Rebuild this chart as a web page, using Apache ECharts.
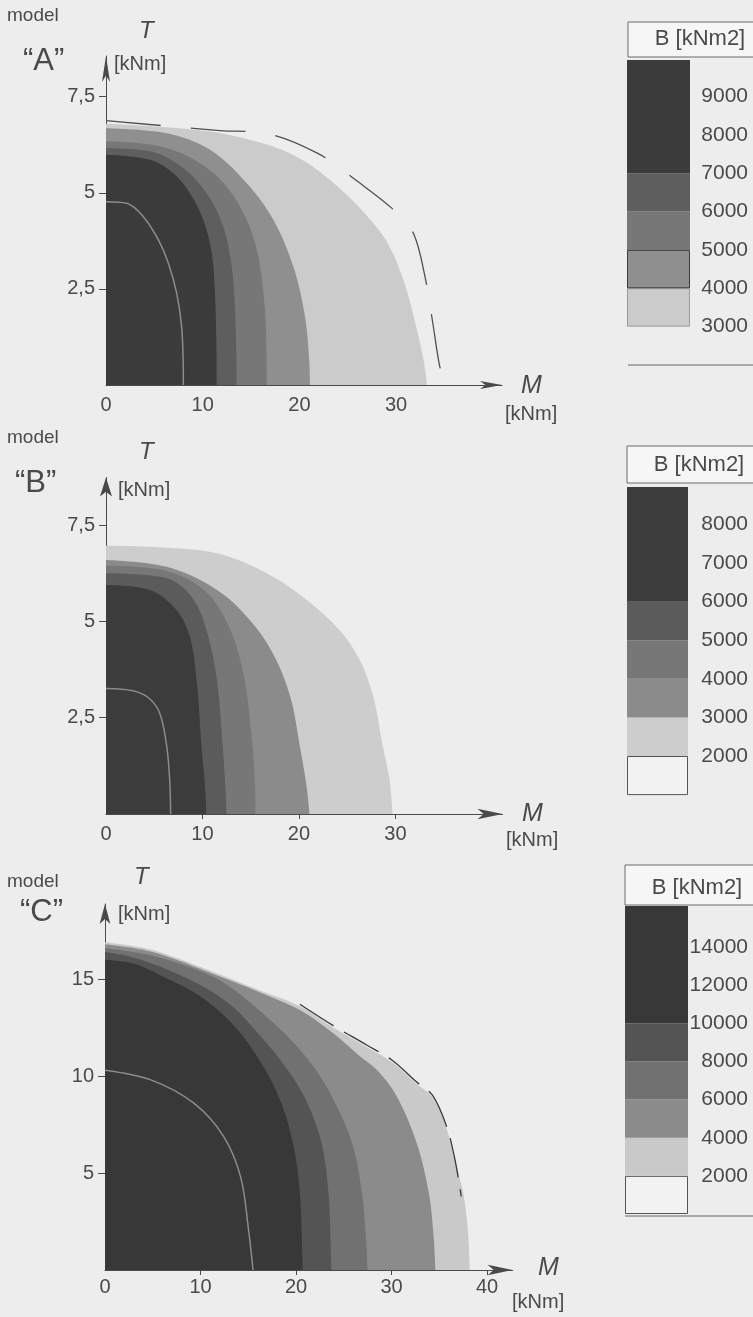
<!DOCTYPE html>
<html><head><meta charset="utf-8">
<script src="https://cdn.jsdelivr.net/npm/echarts@6/dist/echarts.min.js"></script>
<style>html,body{margin:0;padding:0;background:#ededed}#c{width:753px;height:1317px}</style>
</head><body><div id="c"></div>
<script>
// ---------- Panel A (model "A"): band outer boundaries [M, T] ----------
const A_band_3000 = [[0,6.8],[10,6.62],[16,6.3],[20,5.9],[23.5,5.26],[27,4.4],[29.1,3.7],[30.8,2.7],[31.9,1.7],[32.8,0.7],[33.2,0]];
const A_band_4000 = [[0,6.68],[6.27,6.55],[10.75,6.12],[14.55,5.25],[17.3,4.3],[19.37,3.08],[20.58,1.78],[21.0,0.7],[21.1,0]];
const A_band_5000 = [[0,6.34],[5.58,6.21],[9.72,5.77],[12.48,5.16],[14.55,4.3],[15.75,3.34],[16.44,1.95],[16.6,0.7],[16.62,0]];
const A_band_6000 = [[0,6.16],[4.55,6.08],[8.0,5.64],[10.41,4.99],[12.13,4.12],[13.0,3.08],[13.34,1.95],[13.48,0.7],[13.5,0]];
const A_band_7000 = [[0,5.99],[4.55,5.86],[6.96,5.51],[8.69,4.99],[10.06,4.3],[10.93,3.43],[11.27,2.39],[11.43,0.8],[11.45,0]];
const A_contour_inner = [[0,4.77],[2.14,4.73],[3.86,4.38],[5.41,3.78],[6.45,3.17],[7.31,2.39],[7.82,1.52],[7.98,0.6],[8.0,0]];
const A_limit = [[0,6.88],[11.8,6.62],[16.2,6.56],[21.8,6.04],[26,5.3],[30,4.5],[31.8,3.94],[33,2.8],[33.8,1.6],[34.5,0.5],[35.1,0]];

// ---------- Panel B ----------
const B_band_2000 = [[0,6.97],[4.56,6.94],[11.5,6.77],[16.65,6.25],[20.8,5.56],[24.2,4.78],[26.3,4.0],[27.7,3.05],[28.7,1.75],[29.4,0.88],[29.7,0]];
const B_band_3000 = [[0,6.6],[6.3,6.42],[11.5,5.82],[14.9,5.04],[17.3,4.17],[19.1,3.05],[20.1,1.75],[20.8,0.7],[21.1,0]];
const B_band_4000 = [[0,6.45],[6,6.33],[10,5.85],[12.5,5.0],[14.2,3.7],[15.1,2.0],[15.45,0.7],[15.5,0]];
const B_band_5000 = [[0,6.25],[6.3,6.12],[9.0,5.6],[10.5,4.7],[11.5,3.48],[12.1,1.75],[12.4,0.6],[12.5,0]];
const B_band_6000 = [[0,5.95],[4.56,5.82],[7.3,5.3],[8.7,4.6],[9.4,3.48],[9.9,1.75],[10.3,0.6],[10.4,0]];
const B_contour_inner = [[0,3.26],[2.8,3.2],[4.5,3.0],[5.6,2.6],[6.3,1.75],[6.6,0.9],[6.7,0]];

// ---------- Panel C ----------
const C_band_2000 = [[0,16.9],[5,16.5],[11.7,15.3],[16.3,14.4],[20.4,13.6],[23.9,12.5],[27.4,11.5],[30.1,10.7],[32.6,9.6],[34.3,8.9],[35.7,7.4],[36.6,5.7],[37.5,4.0],[38.0,2.0],[38.2,0]];
const C_band_4000 = [[0,16.8],[5,16.4],[11.7,15.2],[16.3,14.3],[20.4,13.4],[23.9,12.2],[26.5,11.1],[28.5,10.3],[30.5,9.0],[32.6,6.6],[33.9,4.0],[34.4,1.8],[34.6,0]];
const C_band_6000 = [[0,16.6],[5,16.2],[10,15.4],[12.8,14.7],[15.9,13.5],[19.0,12.1],[21.8,10.5],[23.9,8.8],[25.9,6.5],[26.9,4.0],[27.3,1.8],[27.5,0]];
const C_band_8000 = [[0,16.4],[3.1,16.1],[8.3,15.1],[12.8,13.8],[16.2,12.1],[19.0,10.4],[21.1,8.7],[22.7,6.5],[23.4,4.0],[23.6,1.8],[23.7,0]];
const C_band_10000 = [[0,16.0],[3,15.8],[5.8,15.2],[10,14.1],[13.5,12.6],[16.2,10.8],[18.3,8.8],[19.7,6.5],[20.4,4.0],[20.6,1.8],[20.7,0]];
const C_contour_inner = [[0,10.3],[4.8,9.8],[9.3,8.6],[12.4,6.9],[14.2,4.8],[15.0,2.2],[15.5,0]];
const C_limit = [[20.4,13.7],[23.9,12.6],[27.4,11.6],[30.1,10.8],[32.6,9.7],[34.3,9.0],[35.7,7.5],[36.6,5.8],[37.3,3.8]];

// ---------- Axis ticks ----------
const A_xLabels = [0,10,20,30], A_yLabels = [2.5,5,7.5];
const B_xLabels = [0,10,20,30], B_yLabels = [2.5,5,7.5];
const C_xLabels = [0,10,20,30,40], C_yLabels = [5,10,15];

// ---------- Legends (lower edges of coloured swatches) ----------
const legendA_steps = [3000,4000,5000,6000,7000];
const legendA_labels = [3000,4000,5000,6000,7000,8000,9000];
const legendB_steps = [2000,3000,4000,5000,6000];
const legendB_labels = [2000,3000,4000,5000,6000,7000,8000];
const legendC_steps = [2000,4000,6000,8000,10000];
const legendC_labels = [2000,4000,6000,8000,10000,12000,14000];

// ---------- styles ----------
const FONT = '"Liberation Sans", Arial, Helvetica, sans-serif';
const TXT = '#4a4a4a';
const AX = '#4a4a4a';
const colA = ['#cbcbcb','#8f8f8f','#777777','#5e5e5e','#3b3b3b'];
const colB = ['#cdcdcd','#8b8b8b','#777777','#5b5b5b','#3c3c3c'];
const colC = ['#c9c9c9','#8b8b8b','#717171','#545454','#383838'];

const chart = echarts.init(document.getElementById('c'));

const grids = [
  {left:106, top:56, width:396, height:329},
  {left:106, top:477.5, width:396.5, height:336.5},
  {left:105, top:904, width:407.5, height:366},
  {left:627, top:60, width:63, height:305},
  {left:627, top:487, width:61, height:307.6},
  {left:625, top:906, width:63, height:308}
].map(g => Object.assign({containLabel:false, outerBoundsMode:'none', show:false}, g));

function fmt(v){ return String(v).replace('.', ','); }

function plotX(max, labels, ticks, inside, len, margin, arrow){
  return {type:'value', min:0, max:max, interval:10,
    axisLine:{show:true, symbol:['none','arrow'], symbolSize:arrow, lineStyle:{color:AX, width:1}},
    axisTick:{show:true, inside:inside, length:len, customValues:ticks, lineStyle:{color:AX}},
    axisLabel:{customValues:labels, margin:margin, fontSize:20, fontFamily:FONT, color:TXT,
      formatter: v => labels.indexOf(v) >= 0 ? fmt(v) : ''},
    splitLine:{show:false}};
}
function plotY(max, labels, interval, arrow){
  return {type:'value', min:0, max:max, interval:interval,
    axisLine:{show:true, symbol:['none','arrow'], symbolSize:arrow, lineStyle:{color:AX, width:1}},
    axisTick:{show:true, inside:false, length:7, customValues:labels, lineStyle:{color:AX}},
    axisLabel:{customValues:labels, margin:11, fontSize:20, fontFamily:FONT, color:TXT,
      formatter: v => labels.indexOf(v) >= 0 ? fmt(v) : ''},
    splitLine:{show:false}};
}
function legX(){ return {type:'category', data:['B'], show:false}; }
function legY(min, max, labels, margin){
  return {type:'value', min:min, max:max, position:'right',
    axisLine:{show:false}, axisTick:{show:false}, splitLine:{show:false},
    axisLabel:{customValues:labels, align:'right', margin:margin, fontSize:21, fontFamily:FONT, color:TXT,
      formatter: v => labels.indexOf(v) >= 0 ? String(v) : ''}};
}

const xAxis = [
  plotX(40.95, A_xLabels, [10,20,30], true, 9, 10, [6,22]),
  plotX(41.1, B_xLabels, [10,20,30], false, 5, 10, [8,25]),
  plotX(42.67, C_xLabels, [10,20,30,40], false, 5, 7, [8,25]),
  legX(), legX(), legX()
];
xAxis.forEach((a,i)=>a.gridIndex=i);
const yAxis = [
  plotY(8.56, A_yLabels, 2.5, [6,26]),
  plotY(8.74, B_yLabels, 2.5, [9,19]),
  plotY(18.87, C_yLabels, 5, [8,20]),
  legY(2000, 9950, legendA_labels, 58),
  legY(1000, 8970, legendB_labels, 60),
  legY(0, 16150, legendC_labels, 60)
];
yAxis.forEach((a,i)=>a.gridIndex=i);

const series = [];
function band(idx, data, color){
  series.push({type:'line', xAxisIndex:idx, yAxisIndex:idx, data:data, smooth:0.35, symbol:'none', showSymbol:false,
    silent:true, lineStyle:{width:0, color:color}, areaStyle:{color:color, opacity:1}, z:2});
}
function contour(idx, data, color, width, dash){
  series.push({type:'line', xAxisIndex:idx, yAxisIndex:idx, data:data, smooth:0.35, symbol:'none', showSymbol:false,
    silent:true, lineStyle:{width:width, color:color, type:dash || 'solid'}, z:3});
}
[A_band_3000, A_band_4000, A_band_5000, A_band_6000, A_band_7000].forEach((d,i)=>band(0,d,colA[i]));
contour(0, A_contour_inner, '#8c8c8c', 1.5);
contour(0, A_limit, '#505050', 1.3, [55,30]);

[B_band_2000, B_band_3000, B_band_4000, B_band_5000, B_band_6000].forEach((d,i)=>band(1,d,colB[i]));
contour(1, B_contour_inner, '#8c8c8c', 1.5);

[C_band_2000, C_band_4000, C_band_6000, C_band_8000, C_band_10000].forEach((d,i)=>band(2,d,colC[i]));
contour(2, C_contour_inner, '#8c8c8c', 1.5);
contour(2, C_limit, '#3a3a3a', 1.3, [40,12]);

function legendBars(idx, steps, colors, axisMax, baseStyle){
  const stack = 'leg'+idx;
  series.push({type:'bar', xAxisIndex:idx, yAxisIndex:idx, stack:stack, barWidth:'100%', silent:true,
    data:[steps[0]], itemStyle:baseStyle});
  steps.forEach((s,i)=>{
    const top = i+1 < steps.length ? steps[i+1] : axisMax;
    const st = {color:colors[i]};
    if (idx===3 && i===1) { st.borderColor='#3a3a3a'; st.borderWidth=1; }
    if (idx===3 && i===0) { st.borderColor='#9a9a9a'; st.borderWidth=1; }
    series.push({type:'bar', xAxisIndex:idx, yAxisIndex:idx, stack:stack, barWidth:'100%', silent:true,
      data:[top - s], itemStyle:st});
  });
}
legendBars(3, legendA_steps, colA, 9950, {color:'rgba(0,0,0,0)'});
legendBars(4, legendB_steps, colB, 8970, {color:'#f2f2f2', borderColor:'#555', borderWidth:1});
legendBars(5, legendC_steps, colC, 16150, {color:'#f2f2f2', borderColor:'#555', borderWidth:1});

function txt(x, y, text, size, extra){
  return {type:'text', x:x, y:y, silent:true,
    style:Object.assign({text:text, font:size+'px '+FONT, fill:TXT, textVerticalAlign:'middle', textAlign:'left'}, extra || {})};
}
function it(x, y, text, size){ return txt(x, y, text, size, {font:'italic '+size+'px '+FONT}); }
function ctr(x, y, text, size){ return txt(x, y, text, size, {textAlign:'center'}); }
function rect(x,y,w,h){ return {type:'rect', silent:true, shape:{x:x,y:y,width:w,height:h}, style:{fill:'#f6f6f6', stroke:'#6a6a6a', lineWidth:1}}; }
function hline(x1,x2,y){ return {type:'line', silent:true, shape:{x1:x1,y1:y,x2:x2,y2:y}, style:{stroke:'#666', lineWidth:1}}; }

const graphic = [
  // Panel A texts
  txt(7, 16, 'model', 19), txt(23, 61, '\u201cA\u201d', 31), it(139, 31, 'T', 24), txt(114, 64, '[kNm]', 20),
  it(521, 386, 'M', 25), txt(505, 414, '[kNm]', 20),
  // Panel B texts
  txt(7, 438, 'model', 19), txt(15, 483, '\u201cB\u201d', 31), it(139, 452, 'T', 24), txt(118, 490, '[kNm]', 20),
  it(522, 814, 'M', 25), txt(506, 840, '[kNm]', 20),
  // Panel C texts
  txt(7, 882, 'model', 19), txt(20, 912, '\u201cC\u201d', 31), it(134, 877, 'T', 24), txt(118, 914, '[kNm]', 20),
  it(538, 1268, 'M', 25), txt(512, 1302, '[kNm]', 20),
  // Legend frames
  rect(628, 22, 140, 35), ctr(700, 39, 'B [kNm2]', 22), hline(628, 753, 365),
  rect(627, 446, 140, 37), ctr(699, 465, 'B [kNm2]', 22),
  rect(625, 865, 140, 40), ctr(697, 888, 'B [kNm2]', 22), hline(625, 753, 1216)
];

chart.setOption({
  backgroundColor:'#ededed',
  animation:false,
  grid:grids, xAxis:xAxis, yAxis:yAxis, series:series, graphic:graphic
});
</script></body></html>
